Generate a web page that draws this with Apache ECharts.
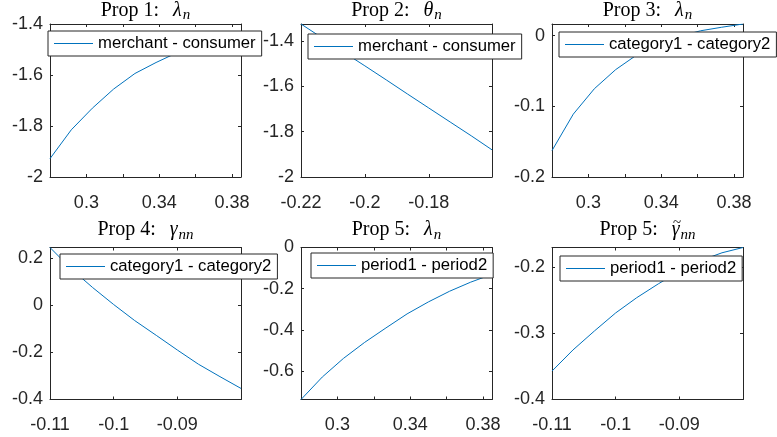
<!DOCTYPE html>
<html>
<head>
<meta charset="utf-8">
<script src="https://cdn.jsdelivr.net/npm/echarts@6/dist/echarts.min.js"></script>
<style>
  html, body { margin: 0; padding: 0; background: #fff; }
  #main { width: 777px; height: 437px; }
</style>
</head>
<body>
<div id="main"></div>
<script>
// x values of the three kinds of panels
var lambdaX = [0.28, 0.2917, 0.3033, 0.315, 0.3267, 0.3383, 0.35, 0.3617, 0.3733, 0.385];
var thetaX = [-0.22, -0.2133, -0.2067, -0.2, -0.1933, -0.1867, -0.18, -0.1733, -0.1667, -0.1602];
var gammaX = [-0.11, -0.1067, -0.1033, -0.1, -0.0967, -0.0933, -0.09, -0.0867, -0.0833, -0.08];

// y values, one array per panel
var prop1Lambda = [-1.928, -1.815, -1.73, -1.655, -1.594, -1.551, -1.512, -1.48, -1.452, -1.43];
var prop2Theta = [-1.324, -1.386, -1.448, -1.509, -1.571, -1.633, -1.695, -1.757, -1.818, -1.88];
var prop3Lambda = [-0.1626, -0.111, -0.075, -0.048, -0.027, -0.012, -0.001, 0.007, 0.012, 0.0166];
var prop4Gamma = [0.245, 0.155, 0.075, 0.003, -0.065, -0.128, -0.19, -0.25, -0.303, -0.353];
var prop5Lambda = [-0.737, -0.628, -0.538, -0.46, -0.39, -0.322, -0.264, -0.212, -0.168, -0.13];
var prop5Gamma = [-0.357, -0.325, -0.296, -0.269, -0.246, -0.225, -0.206, -0.19, -0.178, -0.17];

// ticks and tick labels
var lambdaTicks = [0.3, 0.32, 0.34, 0.36, 0.38];
var lambdaLabels = [0.3, 0.34, 0.38];
var thetaTicks = [-0.22, -0.2, -0.18];
var gammaTicks = [-0.11, -0.1, -0.09];
var yTicks1 = [-2, -1.8, -1.6, -1.4];
var yTicks2 = [-2, -1.8, -1.6, -1.4];
var yTicks3 = [-0.2, -0.1, 0];
var yTicks4 = [-0.4, -0.2, 0, 0.2];
var yTicks5 = [-0.6, -0.4, -0.2, 0];
var yTicks6 = [-0.4, -0.3, -0.2];

var seriesNames = ['merchant - consumer', 'merchant - consumer', 'category1 - category2',
                   'category1 - category2', 'period1 - period2', 'period1 - period2'];

var axisColor = '#262626';
var lineColor = '#0072BD';
var sans = 'Liberation Sans, Arial, sans-serif';
var serif = '"Liberation Serif", "Times New Roman", serif';

var panels = [
  { title: 'Prop 1:', sym: 'λ', sub: 'n', x: lambdaX, y: prop1Lambda, xMin: 0.28, xMax: 0.385,
    xTicks: lambdaTicks, xLabels: lambdaLabels, yMin: -2, yMax: -1.4, yTicks: yTicks1, legend: [48, 31] },
  { title: 'Prop 2:', sym: 'θ', sub: 'n', x: thetaX, y: prop2Theta, xMin: -0.22, xMax: -0.1602,
    xTicks: thetaTicks, xLabels: thetaTicks, yMin: -2, yMax: -1.324, yTicks: yTicks2, legend: [308, 34] },
  { title: 'Prop 3:', sym: 'λ', sub: 'n', x: lambdaX, y: prop3Lambda, xMin: 0.28, xMax: 0.385,
    xTicks: lambdaTicks, xLabels: lambdaLabels, yMin: -0.2, yMax: 0.0166, yTicks: yTicks3, legend: [559, 32] },
  { title: 'Prop 4:', sym: 'γ', sub: 'nn', x: gammaX, y: prop4Gamma, xMin: -0.11, xMax: -0.08,
    xTicks: gammaTicks, xLabels: gammaTicks, yMin: -0.4, yMax: 0.245, yTicks: yTicks4, legend: [60, 254] },
  { title: 'Prop 5:', sym: 'λ', sub: 'n', x: lambdaX, y: prop5Lambda, xMin: 0.28, xMax: 0.385,
    xTicks: lambdaTicks, xLabels: lambdaLabels, yMin: -0.737, yMax: 0, yTicks: yTicks5, legend: [311, 253] },
  { title: 'Prop 5:', sym: 'γ', sub: 'nn', tilde: true, x: gammaX, y: prop5Gamma, xMin: -0.11, xMax: -0.08,
    xTicks: gammaTicks, xLabels: gammaTicks, yMin: -0.4, yMax: -0.17, yTicks: yTicks6, legend: [560, 256] }
];

var lefts = [50, 301, 552];
var tops = [24, 247.5];
var boxW = 191, boxH = [153, 152];
var titleMid = [10.5, 230];

var fMain = '20px ' + serif;
var fSym = 'italic 20px ' + serif;
var fSub = 'italic 15px ' + serif;

// measure title pieces so the whole title can be centred
var ctx = document.createElement('canvas').getContext('2d');
function textW(s, font) { ctx.font = font; return ctx.measureText(s).width; }

var option = { animation: false, grid: [], xAxis: [], yAxis: [], series: [], legend: [], graphic: [] };

function axisBase(i, pos, min, max, ticks, labels) {
  return {
    type: 'value', gridIndex: i, position: pos, min: min, max: max,
    axisLine: { show: true, onZero: false, lineStyle: { color: axisColor, width: 1 } },
    axisTick: { show: true, inside: true, length: 3, customValues: ticks, lineStyle: { color: axisColor } },
    axisLabel: labels ? {
      show: true, customValues: labels, fontSize: 18, color: axisColor, fontFamily: sans,
      margin: (pos === 'bottom' ? 17 : 7)
    } : { show: false },
    splitLine: { show: false }
  };
}

function txt(x, y, s, font, align) {
  return { type: 'text', x: x, y: y, z: 20,
    style: { text: s, font: font, fill: '#000', align: align || 'left', verticalAlign: 'middle' } };
}

panels.forEach(function (p, i) {
  var row = Math.floor(i / 3), col = i % 3;
  option.grid.push({ left: lefts[col], top: tops[row], width: boxW, height: boxH[row] });

  option.xAxis.push(axisBase(i, 'bottom', p.xMin, p.xMax, p.xTicks, p.xLabels));
  option.xAxis.push(axisBase(i, 'top', p.xMin, p.xMax, p.xTicks, null));
  option.yAxis.push(axisBase(i, 'left', p.yMin, p.yMax, p.yTicks, p.yTicks));
  option.yAxis.push(axisBase(i, 'right', p.yMin, p.yMax, p.yTicks, null));

  option.series.push({
    name: seriesNames[i], type: 'line', xAxisIndex: 2 * i, yAxisIndex: 2 * i,
    data: p.x.map(function (v, k) { return [v, p.y[k]]; }),
    symbol: 'none', lineStyle: { color: lineColor, width: 1 }, itemStyle: { color: lineColor }
  });

  // legend: thin line sample, white box with dark border
  option.legend.push({
    data: [seriesNames[i]], left: p.legend[0], top: p.legend[1], selectedMode: false,
    backgroundColor: '#fff', borderColor: axisColor, borderWidth: 1, borderRadius: 0,
    padding: [4, 6, 4, 6], icon: 'rect', itemWidth: 39, itemHeight: 1, z: 10,
    textStyle: { fontSize: 16.7, color: '#000', fontFamily: sans }
  });

  // title "Prop k:  sym_sub"
  var gap = 14;
  var wMain = textW(p.title, fMain), wSym = textW(p.sym, fSym), wSub = textW(p.sub, fSub);
  var total = wMain + gap + wSym + 1 + wSub;
  var cx = lefts[col] + boxW / 2, x0 = cx - total / 2, ym = titleMid[row];
  var xSym = x0 + wMain + gap;
  option.graphic.push(txt(x0, ym, p.title, fMain));
  option.graphic.push(txt(xSym, ym, p.sym, fSym));
  option.graphic.push(txt(xSym + wSym + 1, ym + 5, p.sub, fSub));
  if (p.tilde) {
    option.graphic.push(txt(xSym + wSym / 2 + 1.5, ym - 7, '~', '15px ' + serif, 'center'));
  }
});

var myChart = echarts.init(document.getElementById('main'));
myChart.setOption(option);
</script>
</body>
</html>
